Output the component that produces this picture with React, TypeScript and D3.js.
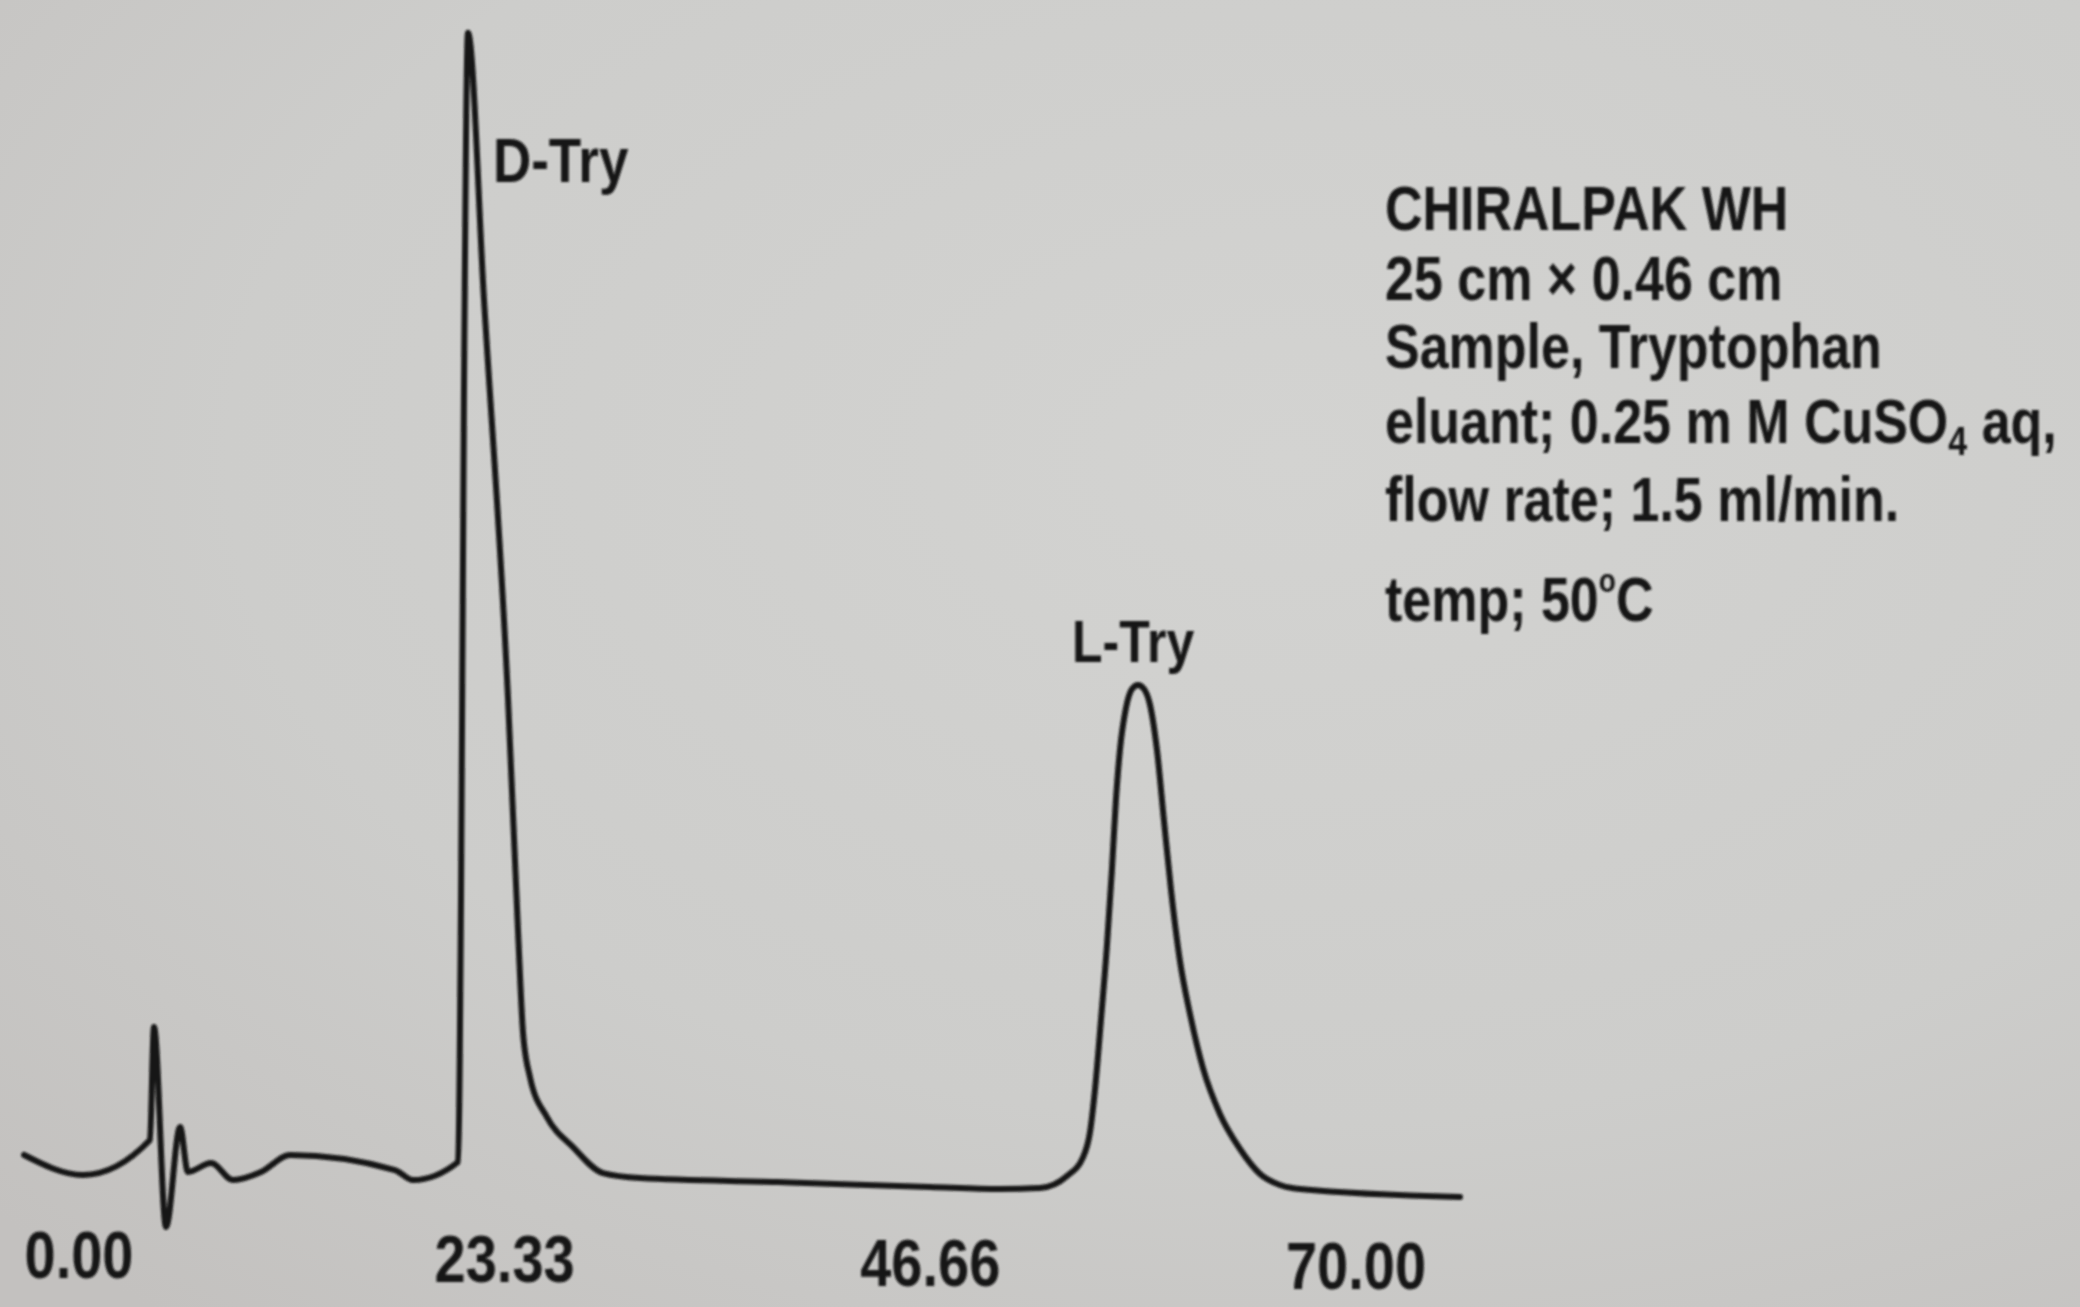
import React from "react";
import * as d3 from "d3";

// Retention time (min) and detector signal (arbitrary units)
const times = [
  -3.01, 0.22, 3.89, 4.11, 4.77, 5.54, 5.97, 7.24, 8.44, 9.98, 11.57, 17.32, 18.31,
  20.78, 20.94, 21.1, 21.32, 22.2, 23.52, 24.07, 24.34, 24.72, 25.65, 27.08, 28.72,
  30.75, 38.26, 46.65, 50.49, 52.68, 54.16, 55.04, 55.42, 55.69, 56.02, 56.35, 56.62,
  56.84, 57.06, 57.39, 57.72, 58.05, 58.38, 58.71, 59.09, 59.47, 59.86, 60.35, 60.9,
  61.61, 62.54, 63.64, 64.74, 65.83, 66.93, 75.7,
];
const signal = [
  2.61, 0.87, 3.91, 13.74, -3.65, 5.04, 1.13, 1.91, 0.43, 1.13, 2.61, 1.3, 0.43,
  2.0, 24.8, 68.3, 100.2, 77.0, 42.2, 21.91, 13.22, 9.39, 5.91, 3.3, 1.04,
  0.61, 0.26, -0.17, -0.35, -0.26, 0.78, 2.43, 4.61, 8.26, 14.35, 20.87, 27.39,
  33.48, 37.83, 41.48, 43.13, 43.48, 43.13, 41.74, 37.83, 31.74, 25.65, 19.48, 14.87,
  10.17, 6.17, 3.13, 0.96, 0.0, -0.35, -1.04,
];

const tickValues = [0, 23.33, 46.66, 70.0];
const tickLabels = ["0.00", "23.33", "46.66", "70.00"];

const peakNames = ["D-Try", "L-Try"];
const peakTimes = [21.32, 58.05];
const peakHeights = [100.2, 43.48];

// |x| marks a subscript, ^x^ a superscript
const infoLines = [
  "CHIRALPAK WH",
  "25 cm \u00d7 0.46 cm",
  "Sample, Tryptophan",
  "eluant; 0.25 m M CuSO|4| aq,",
  "flow rate; 1.5 ml/min.",
  "temp; 50^o^C",
];

const W = 2080;
const H = 1307;
const FONT = "'Liberation Sans', Arial, Helvetica, sans-serif";
const INK = "#161616";
const INFO_SIZE = 52;

function renderInfo(line: string) {
  const parts = line.split(/(\|[^|]+\||\^[^^]+\^)/).filter((p) => p.length);
  let shift = 0;
  return parts.map((p, i) => {
    let target = 0;
    let size = INFO_SIZE;
    let txt = p;
    if (p.startsWith("|")) {
      target = 10;
      size = 34;
      txt = p.slice(1, -1);
    } else if (p.startsWith("^")) {
      target = -24;
      size = 28;
      txt = p.slice(1, -1);
    }
    const dy = target - shift;
    shift = target;
    return (
      <tspan key={i} dy={dy} fontSize={size}>
        {txt}
      </tspan>
    );
  });
}

export default function App() {
  const x = d3.scaleLinear().domain([0, 70]).range([79, 1356]);
  const y = d3.scaleLinear().domain([0, 100]).range([1185, 35]);

  const pts: [number, number][] = times.map((t, i) => [t, signal[i]]);
  const line = d3
    .line<[number, number]>()
    .x((d) => x(d[0]))
    .y((d) => y(d[1]))
    .curve(d3.curveMonotoneX);

  const infoX = 1385;
  const infoBaselines = [230, 300, 368, 443, 521, 621];
  const labelOffsets = [
    { dx: 25, dy: 149 },
    { dx: -66, dy: -23 },
  ];

  return (
    <svg
      width={W}
      height={H}
      style={{ position: "absolute", left: 0, top: 0, display: "block" }}
    >
      <defs>
        <radialGradient id="paper" cx="0.62" cy="0.35" r="0.85">
          <stop offset="0" stopColor="#d3d3d1" />
          <stop offset="0.6" stopColor="#cdcdcb" />
          <stop offset="1" stopColor="#c3c1bf" />
        </radialGradient>
        <filter id="blur" x="-5%" y="-5%" width="110%" height="110%">
          <feGaussianBlur stdDeviation="1.3" />
        </filter>
      </defs>
      <rect width={W} height={H} fill="url(#paper)" />

      <g filter="url(#blur)">
        <path
          d={line(pts) || ""}
          fill="none"
          stroke={INK}
          strokeWidth={6}
          strokeLinejoin="round"
          strokeLinecap="round"
        />

        {peakNames.map((name, i) => (
          <text
            key={name}
            transform={`translate(${x(peakTimes[i]) + labelOffsets[i].dx},${
              y(peakHeights[i]) + labelOffsets[i].dy
            }) scale(1,1.2)`}
            fontFamily={FONT}
            fontWeight="bold"
            fontSize={i === 0 ? 53 : 50}
            fill={INK}
          >
            {name}
          </text>
        ))}

        {tickValues.map((t, i) => (
          <text
            key={t}
            transform={`translate(${x(t)},${1278 + (x(t) - 79) * 0.009}) scale(1,1.2)`}
            textAnchor="middle"
            fontFamily={FONT}
            fontWeight="bold"
            fontSize={56}
            fill={INK}
          >
            {tickLabels[i]}
          </text>
        ))}

        {infoLines.map((ln, i) => (
          <text
            key={i}
            transform={`translate(${infoX},${infoBaselines[i]}) scale(1,1.2)`}
            fontFamily={FONT}
            fontWeight="bold"
            fontSize={INFO_SIZE}
            fill={INK}
          >
            {renderInfo(ln)}
          </text>
        ))}
      </g>
    </svg>
  );
}
